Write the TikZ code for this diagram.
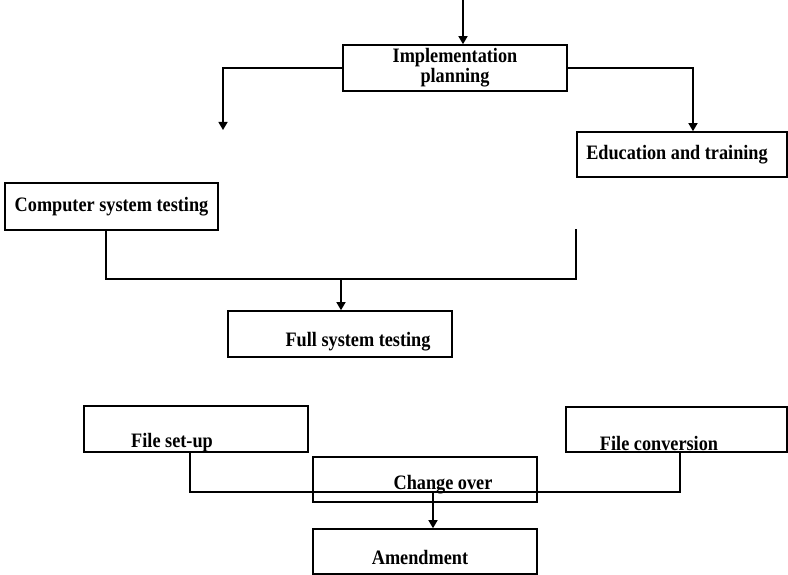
\documentclass[tikz,border=0pt]{standalone}
\usepackage{fontspec}
\setmainfont[FakeStretch=0.89]{Liberation Serif}
\usetikzlibrary{arrows.meta}
\begin{document}
\begin{tikzpicture}[x=1pt,y=-1pt,
  box/.style={draw, line width=1.6pt, inner sep=0pt},
  txt/.style={font=\fontsize{20.5}{20}\selectfont\bfseries, inner sep=0pt, align=center},
  conn/.style={line width=1.4pt},
  arr/.style={conn, -{Triangle[width=9pt,length=8pt]}}]
\useasboundingbox (0,0) rectangle (788,575);
% boxes
\node[box, txt, minimum width=224pt, minimum height=46pt] (impl) at (455,68) {Implementation\\planning};
\node[box, txt, minimum width=210pt, minimum height=45pt] (edu) at (682,154.5) {\hspace*{-10pt}Education and training};
\node[box, txt, minimum width=213pt, minimum height=47pt] (cst) at (111.5,206.5) {Computer system testing};
\node[box, minimum width=224pt, minimum height=46pt] (fst) at (340,334) {};
\node[txt] (fstt) at (358,342) {Full system testing};
\node[box, minimum width=224pt, minimum height=46pt] (fsu) at (196,429) {};
\node[txt] (fsut) at (172,443) {File set-up};
\node[box, minimum width=221pt, minimum height=45pt] (fc) at (676.5,429.5) {};
\node[txt] (fct) at (659,443) {File conversion};
\node[box, minimum width=224pt, minimum height=45pt] (co) at (425,479.5) {};
\node[txt] (cot) at (443,485) {Change over};
\node[box, minimum width=224pt, minimum height=45pt] (am) at (425,551.5) {};
\node[txt] (amt) at (420,557) {Amendment};
% connectors
\coordinate (top) at (463,0);
\draw[arr] (top) -- (top |- impl.north);
\coordinate (lt) at (223,130);
\draw[arr] (impl.west) -| (lt);
\draw[arr] (impl.east) -| ([xshift=11pt]edu.north);
\coordinate (rc) at (576,229);
\draw[conn] ([xshift=-5.5pt]cst.south) -- ++(0,48) -| (rc);
\coordinate (j1) at (341,278);
\draw[arr] (j1) -- (j1 |- fst.north);
\draw[conn] ([xshift=-6pt]fsu.south) -- ++(0,39) -| ([xshift=3.5pt]fc.south);
\coordinate (j2) at (433,491);
\draw[arr] (j2) -- (j2 |- am.north);
\end{tikzpicture}
\end{document}
